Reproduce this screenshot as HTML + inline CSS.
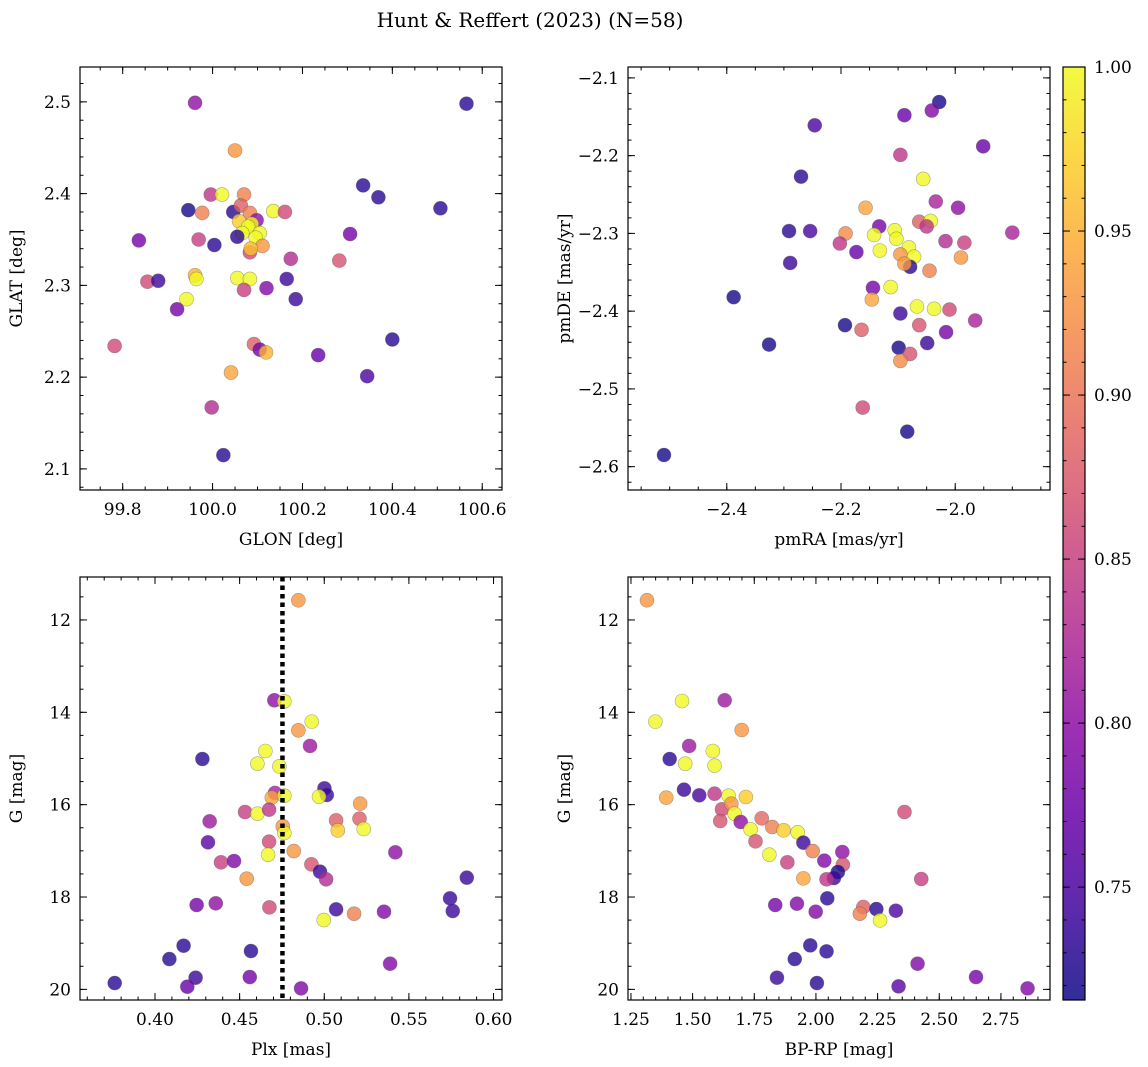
<!DOCTYPE html>
<html><head><meta charset="utf-8"><style>
html,body{margin:0;padding:0;background:#fff;}
svg{display:block;font-family:"DejaVu Serif","Liberation Serif",serif;}
</style></head><body>
<svg id="fig" width="1148" height="1067" viewBox="0 0 1148 1067" xmlns="http://www.w3.org/2000/svg">
<text x="530" y="27" font-size="20" text-anchor="middle">Hunt &amp; Reffert (2023) (N=58)</text>
</svg>
<script>
// ---- Panel 1: GLON / GLAT ----
const glon = [99.961,100.565,100.050,100.335,100.369,100.507,99.996,100.021,100.070,99.946,99.977,100.046,100.063,100.083,100.098,100.135,100.161,100.059,100.087,100.079,100.066,100.105,100.055,100.096,100.111,100.083,100.085,99.836,99.969,100.004,100.174,100.306,100.282,99.855,99.879,99.961,99.964,100.055,100.083,100.070,100.120,100.165,100.185,99.942,99.921,99.782,100.092,100.105,100.119,100.235,100.400,100.344,100.041,99.998,100.024];
const glat = [2.499,2.498,2.447,2.409,2.396,2.384,2.399,2.399,2.399,2.382,2.379,2.380,2.387,2.379,2.371,2.381,2.380,2.370,2.367,2.364,2.357,2.357,2.353,2.352,2.343,2.336,2.340,2.349,2.350,2.344,2.329,2.356,2.327,2.304,2.305,2.311,2.307,2.308,2.307,2.295,2.297,2.307,2.285,2.285,2.274,2.234,2.236,2.230,2.227,2.224,2.241,2.201,2.205,2.167,2.115];
const probA = [.80,.73,.93,.73,.73,.73,.84,1.0,.91,.72,.91,.73,.88,.91,.80,1.0,.86,.97,1.0,1.0,1.0,1.0,.73,1.0,.93,.86,.96,.78,.85,.73,.83,.78,.87,.86,.74,.95,1.0,1.0,1.0,.85,.79,.74,.74,1.0,.78,.86,.88,.78,.95,.77,.73,.75,.94,.83,.73];
// ---- Panel 2: pmRA / pmDE ----
const pmra = [-2.028,-2.041,-2.089,-2.246,-1.951,-2.096,-2.056,-2.270,-2.157,-2.034,-1.995,-2.063,-2.043,-2.050,-2.133,-2.291,-2.254,-2.192,-2.142,-2.106,-2.103,-2.202,-2.017,-1.984,-1.900,-2.173,-2.132,-2.081,-2.096,-2.072,-1.990,-2.079,-2.089,-2.045,-2.289,-2.388,-2.144,-2.113,-2.146,-2.067,-2.037,-2.010,-2.096,-1.965,-2.193,-2.164,-2.063,-2.016,-2.326,-2.099,-2.079,-2.096,-2.049,-2.162,-2.084,-2.510];
const pmde = [-2.131,-2.142,-2.148,-2.161,-2.188,-2.199,-2.230,-2.227,-2.267,-2.259,-2.267,-2.285,-2.284,-2.291,-2.291,-2.297,-2.297,-2.300,-2.302,-2.296,-2.307,-2.313,-2.310,-2.312,-2.299,-2.324,-2.322,-2.318,-2.327,-2.330,-2.331,-2.343,-2.339,-2.348,-2.338,-2.382,-2.370,-2.369,-2.385,-2.394,-2.397,-2.398,-2.403,-2.412,-2.418,-2.424,-2.418,-2.427,-2.443,-2.447,-2.455,-2.464,-2.441,-2.524,-2.555,-2.585];
const probB = [.72,.79,.77,.75,.77,.84,1.0,.73,.94,.82,.80,.88,1.0,.84,.78,.73,.75,.92,1.0,1.0,1.0,.84,.83,.85,.82,.77,1.0,1.0,.93,1.0,.93,.73,.93,.91,.74,.72,.78,1.0,.94,1.0,1.0,.86,.74,.82,.72,.88,.87,.78,.72,.72,.87,.92,.74,.86,.72,.72];
// ---- Panel 3: Plx / G ----
const plx = [.4847,.4705,.4764,.4926,.4847,.4916,.4280,.4652,.4605,.4735,.5001,.5015,.4969,.4709,.4690,.4764,.5212,.4532,.4605,.4674,.5208,.5070,.5080,.5233,.4755,.4764,.4323,.4313,.4674,.4668,.4820,.5420,.4390,.4467,.4924,.4975,.5011,.4542,.5842,.5743,.5759,.4246,.4359,.4676,.5070,.5176,.5353,.4997,.4169,.4567,.4085,.5389,.4240,.4560,.3762,.4191,.4863];
const gmagC = [11.574,13.740,13.762,14.202,14.390,14.729,15.011,14.838,15.112,15.170,15.646,15.791,15.827,15.747,15.848,15.805,15.978,16.159,16.195,16.108,16.303,16.339,16.556,16.527,16.469,16.614,16.361,16.816,16.801,17.083,17.004,17.032,17.249,17.220,17.292,17.451,17.617,17.603,17.581,18.029,18.303,18.173,18.137,18.224,18.267,18.361,18.318,18.498,19.054,19.170,19.343,19.444,19.747,19.733,19.863,19.942,19.978];
const probC = [.93,.80,1.0,1.0,.93,.81,.73,1.0,1.0,1.0,.74,.74,1.0,.82,.94,1.0,.93,.85,1.0,.84,.88,.88,.97,1.0,.93,1.0,.81,.76,.86,1.0,.93,.80,.85,.79,.87,.74,.83,.93,.74,.74,.74,.78,.80,.86,.74,.91,.79,1.0,.73,.73,.73,.79,.74,.78,.73,.77,.79];
const plxLine = [0.4753];
// ---- Panel 4: BP-RP / G ----
const bprp = [1.315,1.457,1.630,1.349,1.699,1.486,1.407,1.582,1.470,1.589,1.393,1.465,1.527,1.589,1.646,1.716,1.619,1.657,1.670,1.612,1.695,1.780,1.735,1.823,1.869,1.926,1.949,1.755,1.987,1.811,1.884,2.034,2.107,2.109,2.089,2.073,2.043,1.949,2.359,2.427,2.046,1.835,1.923,1.999,2.192,2.178,2.245,2.260,2.324,1.977,2.043,1.914,2.412,1.842,2.004,2.335,2.649,2.858];
const gmagD = [11.574,13.755,13.740,14.202,14.383,14.729,15.011,14.838,15.112,15.155,15.848,15.675,15.798,15.762,15.805,15.834,16.101,15.978,16.195,16.354,16.375,16.296,16.534,16.484,16.556,16.599,16.823,16.794,17.004,17.083,17.249,17.213,17.025,17.300,17.458,17.588,17.617,17.596,16.159,17.610,18.029,18.173,18.144,18.318,18.217,18.361,18.260,18.505,18.296,19.047,19.177,19.343,19.444,19.747,19.863,19.935,19.733,19.978];
const probD = [.93,1.0,.81,1.0,.93,.81,.73,1.0,1.0,1.0,.94,.74,.75,.84,1.0,.97,.86,.93,1.0,.87,.80,.89,1.0,.91,.97,1.0,.74,.87,.91,1.0,.85,.79,.80,.87,.72,.74,.84,.94,.86,.85,.73,.78,.79,.79,.88,.91,.73,1.0,.75,.73,.73,.73,.79,.74,.73,.76,.78,.79];
// ---- Tick labels ----
const ticksA_x = [99.8,100.0,100.2,100.4,100.6];
const ticksA_y = [2.1,2.2,2.3,2.4,2.5];
const ticksB_x = [-2.4,-2.2,-2.0];
const ticksB_y = [-2.6,-2.5,-2.4,-2.3,-2.2,-2.1];
const ticksC_x = [0.40,0.45,0.50,0.55,0.60];
const ticksG = [12,14,16,18,20];
const ticksD_x = [1.25,1.50,1.75,2.00,2.25,2.50,2.75];
const cbTicks = [0.75,0.80,0.85,0.90,0.95,1.00];

const NS = "http://www.w3.org/2000/svg";
const svg = document.getElementById('fig');
const VMIN = 0.7156, VMAX = 1.0;
const FS = 17;
const stops = ["#0d0887","#41049d","#6a00a8","#8f0da4","#b12a90","#cc4778","#e16462","#f2844b","#fca636","#fcce25","#f0f921"];
function hex(h){return [1,3,5].map(i=>parseInt(h.substr(i,2),16));}
function plasma(t){t=Math.max(0,Math.min(1,t));const f=t*10,i=Math.min(9,Math.floor(f)),u=f-i;const a=hex(stops[i]),b=hex(stops[i+1]);return 'rgb('+a.map((v,k)=>Math.round(v+(b[k]-v)*u)).join(',')+')';}
function cmap(p){return plasma((p-VMIN)/(VMAX-VMIN));}
function mk(tag,attrs,parent){const e=document.createElementNS(NS,tag);for(const k in attrs)e.setAttribute(k,attrs[k]);(parent||svg).appendChild(e);return e;}
function fmt(v,d){const s=Math.abs(v).toFixed(d);return (v<0?'\u2212':'')+s;}

function panel(o){
  const g=mk('g',{});
  
  
  const X=v=>o.x0+(v-o.xmin)/(o.xmax-o.xmin)*o.w;
  const Y=o.yinv? (v=>o.y0+(v-o.ymin)/(o.ymax-o.ymin)*o.h) : (v=>o.y0+o.h-(v-o.ymin)/(o.ymax-o.ymin)*o.h);
  const tg=mk('g',{stroke:'#000','stroke-width':1},g);
  
  
  const eps=1e-9;
  function ticksX(step,len){const s=Math.ceil(o.xmin/step-eps);for(let k=s;k*step<=o.xmax+eps;k++){const px=X(k*step);mk('line',{x1:px,x2:px,y1:o.y0+o.h,y2:o.y0+o.h-len},tg);mk('line',{x1:px,x2:px,y1:o.y0,y2:o.y0+len},tg);}}
  function ticksY(step,len){const lo=Math.min(o.ymin,o.ymax),hi=Math.max(o.ymin,o.ymax);const s=Math.ceil(lo/step-eps);for(let k=s;k*step<=hi+eps;k++){const py=Y(k*step);mk('line',{y1:py,y2:py,x1:o.x0,x2:o.x0+len},tg);mk('line',{y1:py,y2:py,x1:o.x0+o.w,x2:o.x0+o.w-len},tg);}}
  ticksX(o.xminor,3.5);ticksY(o.yminor,3.5);
  o.xt.forEach(v=>{const px=X(v);mk('line',{x1:px,x2:px,y1:o.y0+o.h,y2:o.y0+o.h-7},tg);mk('line',{x1:px,x2:px,y1:o.y0,y2:o.y0+7},tg);
    const t=mk('text',{x:px,y:o.y0+o.h+25,'font-size':FS,'text-anchor':'middle'},g);t.textContent=fmt(v,o.xd);
    
    });
  o.yt.forEach(v=>{const py=Y(v);mk('line',{y1:py,y2:py,x1:o.x0,x2:o.x0+7},tg);mk('line',{y1:py,y2:py,x1:o.x0+o.w,x2:o.x0+o.w-7},tg);
    const t=mk('text',{x:o.x0-9,y:py+6,'font-size':FS,'text-anchor':'end'},g);t.textContent=fmt(v,o.yd);
    
    });
  const pg=mk('g',{},g);
  
  
  o.xs.forEach((v,i)=>{const c=mk('circle',{cx:X(v),cy:Y(o.ys[i]),r:7,fill:cmap(o.ps[i]),'fill-opacity':0.8,stroke:'#555','stroke-opacity':0.5,'stroke-width':0.6},pg);
    
    });
  if(o.vline){o.vline.forEach(v=>{const l=mk('line',{x1:X(v),x2:X(v),y1:o.y0,y2:o.y0+o.h,stroke:'#000','stroke-width':4.5,'stroke-dasharray':'4.5 4'},pg);
    
    });}
  const fr=mk('rect',{x:o.x0,y:o.y0,width:o.w,height:o.h,fill:'none',stroke:'#000','stroke-width':1.2},g);
  
  
  const xl=mk('text',{x:o.x0+o.w/2,y:o.y0+o.h+55,'font-size':FS,'text-anchor':'middle'},g);xl.textContent=o.xlabel;
  
  
  const yx=o.x0-o.ylabOff, yy=o.y0+o.h/2;
  const yl=mk('text',{x:yx,y:yy,'font-size':FS,'text-anchor':'middle',transform:'rotate(-90 '+yx+' '+yy+')'},g);yl.textContent=o.ylabel;
  
  
}

panel({name:'glon-glat-panel',x0:80,y0:67,w:422,h:423,xmin:99.705,xmax:100.644,ymin:2.077,ymax:2.538,xt:ticksA_x,yt:ticksA_y,xd:1,yd:1,xminor:0.05,yminor:0.02,xs:glon,ys:glat,ps:probA,xlabel:'GLON [deg]',ylabel:'GLAT [deg]',ylabOff:58});
panel({name:'pm-panel',x0:628,y0:67,w:422,h:423,xmin:-2.573,xmax:-1.834,ymin:-2.630,ymax:-2.086,xt:ticksB_x,yt:ticksB_y,xd:1,yd:1,xminor:0.05,yminor:0.02,xs:pmra,ys:pmde,ps:probB,xlabel:'pmRA [mas/yr]',ylabel:'pmDE [mas/yr]',ylabOff:58});
panel({name:'plx-g-panel',x0:80,y0:577,w:422,h:423,xmin:0.3557,xmax:0.605,ymin:11.07,ymax:20.23,yinv:true,xt:ticksC_x,yt:ticksG,xd:2,yd:0,xminor:0.01,yminor:0.5,xs:plx,ys:gmagC,ps:probC,vline:plxLine,xlabel:'Plx [mas]',ylabel:'G [mag]',ylabOff:58});
panel({name:'cmd-panel',x0:628,y0:577,w:422,h:423,xmin:1.238,xmax:2.949,ymin:11.07,ymax:20.23,yinv:true,xt:ticksD_x,yt:ticksG,xd:2,yd:0,xminor:0.05,yminor:0.5,xs:bprp,ys:gmagD,ps:probD,xlabel:'BP-RP [mag]',ylabel:'G [mag]',ylabOff:58});

(function(){
  const x0=1063,y0=67,w=22,h=933;
  const g=mk('g',{});
  
  
  const defs=mk('defs',{},g);
  const lg=mk('linearGradient',{id:'cbg',x1:0,y1:1,x2:0,y2:0},defs);
  for(let i=0;i<=20;i++){const t=i/20;mk('stop',{offset:t,'stop-color':plasma(t),'stop-opacity':0.85},lg);}
  mk('rect',{x:x0,y:y0,width:w,height:h,fill:'url(#cbg)'},g);
  const Y=v=>y0+h-(v-VMIN)/(VMAX-VMIN)*h;
  for(let k=Math.ceil(VMIN/0.01);k<=100;k++){const py=Y(k*0.01);mk('line',{x1:x0+w,x2:x0+w-3.5,y1:py,y2:py,stroke:'#000'},g);mk('line',{x1:x0,x2:x0+3.5,y1:py,y2:py,stroke:'#000'},g);}
  cbTicks.forEach(v=>{const py=Y(v);mk('line',{x1:x0+w,x2:x0+w-7,y1:py,y2:py,stroke:'#000'},g);mk('line',{x1:x0,x2:x0+7,y1:py,y2:py,stroke:'#000'},g);
    const t=mk('text',{x:x0+w+9,y:py+6,'font-size':FS},g);t.textContent=v.toFixed(2);
    
    });
  mk('rect',{x:x0,y:y0,width:w,height:h,fill:'none',stroke:'#000','stroke-width':1.2},g);
})();
</script>
</body></html>
